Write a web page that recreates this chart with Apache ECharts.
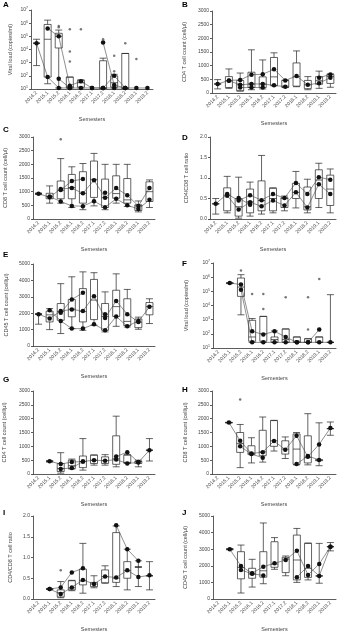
<!DOCTYPE html>
<html>
<head>
<meta charset="utf-8">
<script src="https://cdn.jsdelivr.net/npm/echarts@6/dist/echarts.min.js"></script>
<style>
  html, body { margin: 0; padding: 0; background: #fff; }
  #main { width: 341px; height: 631px; }
</style>
</head>
<body>
<div id="main"></div>
<script>
  const semesters = ['2014.2', '2015.1', '2015.2', '2016.1', '2016.2', '2017.1', '2017.2', '2018.1', '2018.2', '2019.1', '2019.2']

  // box = [min, Q1, median, Q3, max] per semester, null = no box
  // A viral load
  const boxA = [
    [600, 3e4, 3e4, 3e4, 6e4], [25, 80, 6e4, 8e5, 1.7e6], [12, 1.3e4, 1e5, 1.7e5, 3e5], [12, 12, 15, 80, 80],
    [12, 14, 30, 45, 50], null, [11, 11, 12, 1.4e3, 2.2e3], [12, 14, 30, 100, 130], [11, 11, 12, 5e3, 5e3], null, null
  ]
  const lineA1 = [3e4, 81, 12, 12, 12, 12, 12, 12, 12, 12, 12]
  const lineA2 = [null, 4e5, 1e5, 18, 38, 12, 12, null, null, null, null]
  const lineA3 = [null, null, 60, 12, null, null, null, null, null, null, null]
  const lineA4 = [null, null, null, null, null, null, 3.4e4, 20, 12, null, null]
  const lineA5 = [null, null, null, null, null, null, 12, 100, 12, null, null]
  const outA = [[2, 6e5], [2, 5e5], [3, 3.5e5], [3, 7e3], [3, 1.2e3], [4, 3.5e5], [6, 6e4], [7, 3.3e3], [7, 220], [8, 3e4], [9, 1.9e3]]

  // B CD4
  const boxB = [
    [150, 330, 330, 330, 490], [170, 200, 450, 600, 880], [70, 80, 300, 460, 730], [120, 200, 330, 760, 1580],
    [150, 200, 330, 590, 1210], [260, 280, 590, 1300, 1470], [200, 210, 250, 460, 470], [230, 250, 600, 1100, 1540],
    [120, 160, 300, 460, 600], [170, 320, 450, 600, 800], [210, 350, 600, 680, 700]
  ]
  const lineB1 = [330, 460, 480, 670, 685, 870, 460, 620, 300, 360, 560]
  const lineB2 = [null, 450, 300, 330, 330, 280, 230, null, null, 560, 680]
  const lineB3 = [null, null, 200, 200, 200, null, null, null, null, null, null]
  const outB = []

  // C CD8
  const boxC = [
    [900, 920, 920, 920, 950], [580, 740, 820, 940, 1210], [580, 740, 1050, 1390, 2210], [420, 740, 1150, 1630, 1910],
    [340, 580, 940, 1730, 2030], [480, 790, 1450, 2120, 2400], [340, 420, 780, 1460, 2000], [580, 760, 930, 1580, 2000],
    [460, 580, 700, 1480, 2000], [260, 310, 480, 520, 660], [420, 640, 1000, 1360, 1430]
  ]
  const lineC1 = [920, 800, 1100, 1130, 940, 1420, 780, 1130, 870, 480, 1130]
  const lineC2 = [null, 820, 640, 480, 470, 650, 430, 740, 500, 370, 700]
  const lineC3 = [null, null, 1060, 1390, 1460, null, 960, null, null, null, null]
  const outC = [[2, 2920]]

  // D CD4/CD8
  const boxD = [
    [0.12, 0.37, 0.37, 0.37, 0.5], [0.15, 0.2, 0.58, 0.76, 1.04], [0.02, 0.07, 0.3, 0.5, 1.02], [0.07, 0.15, 0.42, 0.73, 0.9],
    [0.12, 0.2, 0.45, 0.93, 1.55], [0.15, 0.2, 0.5, 0.75, 0.76], [0.2, 0.28, 0.5, 0.52, 0.56], [0.27, 0.5, 0.65, 0.87, 1.16],
    [0.15, 0.22, 0.3, 0.78, 0.97], [0.28, 0.5, 0.95, 1.2, 1.36], [0.15, 0.33, 0.73, 1.07, 1.22]
  ]
  const lineD1 = [0.37, 0.61, 0.45, 0.58, 0.46, 0.61, 0.51, 0.88, 0.61, 1.02, 0.96]
  const lineD2 = [null, 0.57, 0.23, 0.41, 0.31, 0.45, 0.33, 0.65, 0.28, 0.85, 0.61]
  const lineD3 = [null, null, 0.51, 0.35, null, null, null, null, null, null, null]
  const outD = []

  // E CD45
  const boxE = [
    [1330, 1940, 1940, 1940, 1960], [1000, 1470, 1900, 2120, 2280], [760, 1570, 2100, 2590, 3800], [1060, 1780, 2250, 2840, 4220],
    [960, 1470, 2100, 3500, 4520], [1260, 1610, 2800, 4060, 4470], [860, 960, 1800, 2590, 3300], [1200, 1800, 2400, 3400, 4400],
    [1160, 1250, 1500, 2880, 3450], [1020, 1120, 1450, 1650, 1760], [1370, 1900, 2400, 2650, 2880]
  ]
  const lineE1 = [1940, 1670, 2140, 2220, 2140, 3040, 1710, 2750, 1940, 1470, 2390]
  const lineE2 = [null, 2180, 1530, 1060, 1060, 1330, 960, 1800, 1200, 1530, null]
  const lineE3 = [null, null, 2020, 2840, 3240, null, 1940, null, null, null, null]
  const outE = []

  // F viral load
  const boxF = [
    null, [3.5e5, 3.8e5, 3.8e5, 3.8e5, 4e5], [2200, 4.4e4, 2e5, 8.7e5, 1.5e6], [25, 30, 60, 900, 1200],
    [25, 30, 100, 1700, 1700], [25, 25, 40, 60, 160], [25, 25, 40, 220, 220], [25, 25, 30, 60, 60],
    [25, 25, 25, 45, 45], [25, 25, 25, 60, 60], [25, 25, 25, 25, 5.8e4]
  ]
  const lineF1 = [null, 3.9e5, 3e5, 150, 90, 150, 60, 25, 25, 200, null]
  const lineF2 = [null, null, 1.3e5, 25, 25, 25, 25, 25, 25, 25, 25]
  const outF = [[2, 2.9e6], [3, 6.5e4], [4, 6.5e4], [4, 5.6e3], [6, 3.8e4], [8, 3.8e4], [8, 200], [9, 7.4e5]]

  // G CD4
  const boxG = [
    null, [430, 460, 460, 460, 480], [30, 90, 200, 380, 770], [180, 200, 300, 500, 540],
    [140, 230, 450, 650, 1280], [320, 380, 500, 680, 690], [320, 380, 480, 620, 700], [260, 350, 550, 1380, 2090],
    [380, 400, 420, 680, 700], [260, 380, 450, 460, 500], [470, 860, 860, 860, 1280]
  ]
  const lineG1 = [null, 460, 360, 430, 450, 500, 480, 520, 380, 420, 860]
  const lineG2 = [null, null, 180, 220, 450, null, null, 630, 790, 430, null]
  const outG = []

  // H CD8
  const boxH = [
    null, [1840, 1860, 1860, 1860, 1870], [230, 780, 1100, 1500, 1790], [400, 700, 750, 1020, 1310],
    [430, 660, 800, 1580, 2060], [830, 1000, 1200, 1930, 1940], [560, 720, 900, 1200, 1340], [330, 350, 900, 1450, 1500],
    [330, 400, 600, 1380, 2180], [300, 480, 500, 520, 1850], [1400, 1640, 1640, 1640, 1880]
  ]
  const lineH1 = [null, 1860, 1200, 740, 790, 1190, 880, 1380, 620, 1070, 1660]
  const lineH2 = [null, null, 1000, 720, 590, null, null, 360, 650, 510, null]
  const outH = [[2, 2690]]

  // I CD4/CD8
  const boxI = [
    null, [0.23, 0.24, 0.24, 0.24, 0.25], [0.03, 0.05, 0.15, 0.22, 0.42], [0.2, 0.22, 0.27, 0.44, 0.45],
    [0.14, 0.34, 0.45, 0.72, 1.34], [0.27, 0.3, 0.36, 0.4, 0.56], [0.38, 0.39, 0.54, 0.7, 0.8], [0.3, 0.4, 0.5, 1.6, 1.76],
    [0.22, 0.5, 0.69, 0.9, 1.2], [0.3, 0.77, 0.77, 0.77, 0.92], [0.22, 0.56, 0.56, 0.56, 0.9]
  ]
  const lineI1 = [null, 0.24, 0.28, 0.64, 0.74, null, null, 1.78, 1.2, 0.92, null]
  const lineI2 = [null, 0.24, 0.12, 0.28, 0.46, 0.36, 0.54, 0.52, 0.69, 0.53, 0.57]
  const outI = [[2, 0.69]]

  // J CD45
  const boxJ = [
    null, [2960, 3000, 3000, 3000, 3040], [360, 1215, 1900, 2850, 3250], [720, 1250, 1500, 1850, 2390],
    [920, 1315, 1700, 2850, 4580], [1790, 1910, 2100, 3450, 3700], [1400, 1590, 2400, 2510, 2590], [1000, 1150, 2350, 3850, 4250],
    [1150, 1300, 1850, 3350, 3370], [950, 1390, 1390, 1390, 3350], [2900, 3150, 3150, 3150, 3400]
  ]
  const lineJ1 = [null, 3000, 1990, 1550, 1950, 2150, 2350, 2910, 1450, 2110, 3150]
  const lineJ2 = [null, null, 1750, 1520, 1420, null, null, 1315, 1990, 1390, 3150]
  const outJ = []

  const vlName = 'Viral load (copies/ml)'
  const cd4Name = 'CD4 T cell count (cell/μl)'
  const cd8Name = 'CD8 T cell count (cell/μl)'
  const ratioName = 'CD4/CD8 T cell ratio'
  const cd45Name = 'CD45 T cell count (cell/μl)'

  const panels = [
    { id: 'A', box: boxA, lines: [lineA1, lineA2, lineA3, lineA4, lineA5], out: outA, y: 'log', name: vlName, g: [31, 10, 122, 79], gap: 18, L: [3, 1] },
    { id: 'B', box: boxB, lines: [lineB1, lineB2, lineB3], out: outB, y: 3000, name: cd4Name, g: [212, 11, 124, 82], gap: 25, L: [182, 1] },
    { id: 'C', box: boxC, lines: [lineC1, lineC2, lineC3], out: outC, y: 3000, name: cd8Name, g: [33, 137, 122, 82], gap: 25, L: [3, 126] },
    { id: 'D', box: boxD, lines: [lineD1, lineD2, lineD3], out: outD, y: 2, name: ratioName, g: [210, 137, 126, 82], gap: 21, L: [182, 134] },
    { id: 'E', box: boxE, lines: [lineE1, lineE2, lineE3], out: outE, y: 5000, name: cd45Name, g: [33, 264, 122, 82], gap: 24, L: [3, 251] },
    { id: 'F', box: boxF, lines: [lineF1, lineF2], out: outF, y: 'log', name: vlName, g: [213, 263, 123, 85], gap: 24, L: [182, 260] },
    { id: 'G', box: boxG, lines: [lineG1, lineG2], out: outG, y: 3000, name: cd4Name, g: [33, 391, 122, 83], gap: 26, L: [3, 376] },
    { id: 'H', box: boxH, lines: [lineH1, lineH2], out: outH, y: 3000, name: cd8Name, g: [212, 391, 124, 83], gap: 24, L: [182, 386] },
    { id: 'I', box: boxI, lines: [lineI1, lineI2], out: outI, y: 2, name: ratioName, g: [33, 516, 122, 83], gap: 20, L: [3, 509] },
    { id: 'J', box: boxJ, lines: [lineJ1, lineJ2], out: outJ, y: 5000, name: cd45Name, g: [213, 516, 123, 83], gap: 25, L: [182, 509] }
  ]

  const ink = '#333'
  const labelColor = '#444'

  function yAxisFor(p, i) {
    const base = {
      gridIndex: i,
      name: p.name,
      nameLocation: 'middle',
      nameRotate: 90,
      nameGap: p.gap,
      nameTextStyle: { fontSize: 5.5, color: labelColor },
      axisLine: { show: true, lineStyle: { color: ink, width: 0.8 } },
      axisTick: { show: true, length: 2, lineStyle: { color: ink, width: 0.8 } },
      splitLine: { show: false },
      axisLabel: { fontSize: 5, color: labelColor, margin: 3, formatter: v => String(v) }
    }
    if (p.y === 'log') {
      return Object.assign(base, {
        type: 'log', logBase: 10, min: 10, max: 1e7, splitNumber: 6,
        axisLabel: {
          fontSize: 5, color: labelColor, margin: 3,
          formatter: v => '10{s|' + Math.round(Math.log10(v)) + '}',
          rich: { s: { fontSize: 3.5, color: labelColor, verticalAlign: 'top', padding: [0, 0, 3, 0] } }
        }
      })
    }
    if (p.y === 2) {
      return Object.assign(base, {
        type: 'value', min: 0, max: 2, interval: 0.5,
        axisLabel: { fontSize: 5, color: labelColor, margin: 3, formatter: v => v.toFixed(1) }
      })
    }
    return Object.assign(base, { type: 'value', min: 0, max: p.y, interval: p.y === 3000 ? 500 : 1000 })
  }

  const grids = [], xAxes = [], yAxes = [], datasets = [], series = [], graphics = []
  panels.forEach((p, i) => {
    grids.push({ left: p.g[0], top: p.g[1], width: p.g[2], height: p.g[3], containLabel: false, outerBoundsMode: 'none' })
    xAxes.push({
      gridIndex: i,
      type: 'category',
      data: semesters,
      boundaryGap: true,
      name: 'Semesters',
      nameLocation: 'middle',
      nameGap: 27,
      nameTextStyle: { fontSize: 5.5, color: labelColor },
      axisLine: { onZero: false, lineStyle: { color: ink, width: 0.8 } },
      axisTick: { alignWithLabel: true, length: 2, lineStyle: { color: ink, width: 0.8 } },
      axisLabel: { rotate: 45, fontSize: 5, color: labelColor, margin: 3, interval: 0 },
      splitLine: { show: false }
    })
    yAxes.push(yAxisFor(p, i))
    datasets.push({
      dimensions: ['cat', 'lo', 'q1', 'med', 'q3', 'hi'],
      sourceHeader: false,
      source: p.box.map((b, k) => b ? [semesters[k]].concat(b) : null).filter(Boolean)
    })
    series.push({
      type: 'boxplot',
      xAxisIndex: i,
      yAxisIndex: i,
      datasetIndex: i,
      boxWidth: [7, 7],
      itemStyle: { color: '#fff', borderColor: '#222', borderWidth: 0.7 },
      emphasis: { disabled: true },
      z: 1
    })
    p.lines.forEach(line => {
      series.push({
        type: 'line',
        xAxisIndex: i,
        yAxisIndex: i,
        data: line,
        symbol: 'circle',
        symbolSize: 4.5,
        showAllSymbol: true,
        connectNulls: false,
        lineStyle: { color: '#444', width: 0.6 },
        itemStyle: { color: '#111' },
        emphasis: { disabled: true },
        z: 3
      })
    })
    if (p.out.length) {
      series.push({
        type: 'scatter',
        xAxisIndex: i,
        yAxisIndex: i,
        data: p.out.map(o => [semesters[o[0]], o[1]]),
        symbol: 'circle',
        symbolSize: 2.5,
        itemStyle: { color: '#555' },
        emphasis: { disabled: true },
        z: 2
      })
    }
    graphics.push({
      type: 'text', left: p.L[0], top: p.L[1],
      style: { text: p.id, font: 'bold 8px "Liberation Sans"', fill: '#000' }
    })
  })

  const chart = echarts.init(document.getElementById('main'), null, { renderer: 'canvas' })
  chart.setOption({
    animation: false,
    backgroundColor: '#fff',
    textStyle: { fontFamily: 'Liberation Sans' },
    grid: grids,
    xAxis: xAxes,
    yAxis: yAxes,
    dataset: datasets,
    series: series,
    graphic: graphics
  })
</script>
</body>
</html>
